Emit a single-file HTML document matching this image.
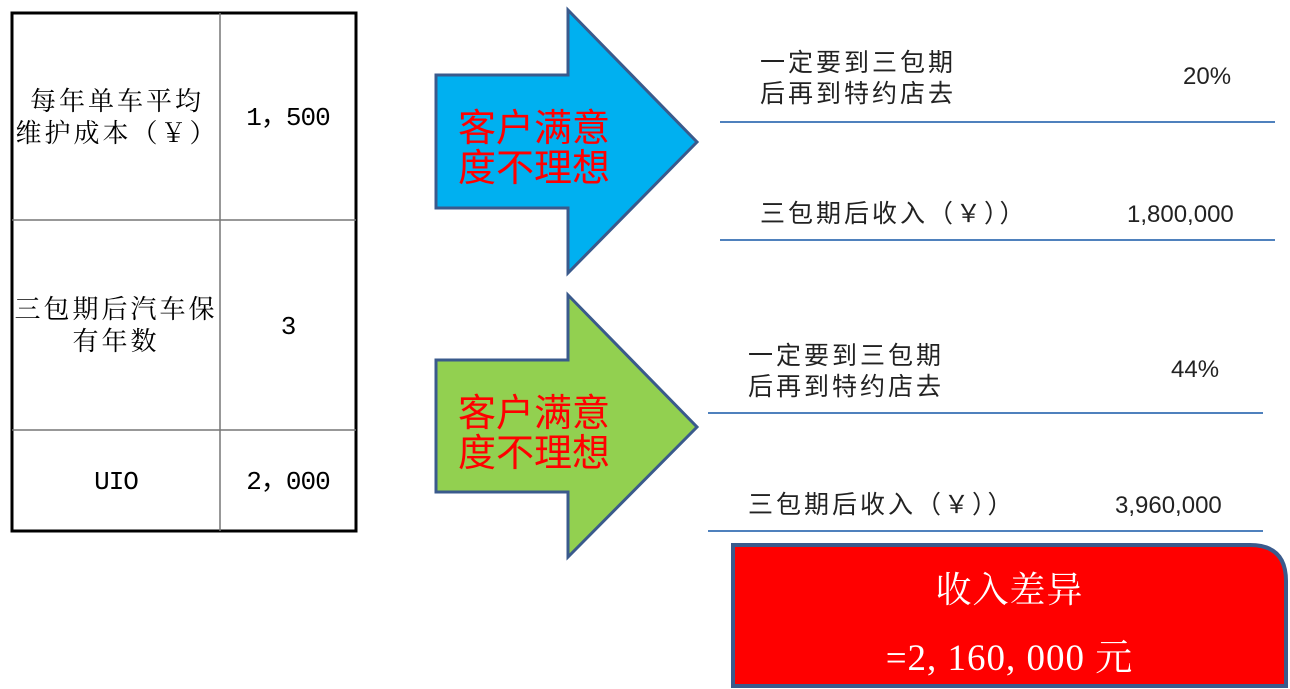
<!DOCTYPE html>
<html><head><meta charset="utf-8"><style>
body{margin:0;width:1290px;height:689px;background:#fff;position:relative;overflow:hidden;font-family:"Liberation Serif","Noto Serif CJK SC",serif}
.a{position:absolute}
.t{font-size:26px;color:#000;text-align:center;line-height:32px;letter-spacing:3px;white-space:nowrap}
.n{font-family:"Liberation Mono",monospace;font-size:26px;letter-spacing:-1px}
.s{font-family:"Liberation Sans","Noto Sans CJK SC",sans-serif;font-size:25px;color:#222;line-height:31px;letter-spacing:3px;white-space:nowrap}
.v{font-family:"Liberation Sans",sans-serif;font-size:24px;color:#222;line-height:31px;white-space:nowrap}
.r{font-family:"Noto Sans CJK SC",sans-serif;font-size:38px;color:#f00;line-height:40px;white-space:nowrap}
</style></head><body>
<svg class="a" style="left:0;top:0" width="1290" height="689">
<rect x="12" y="13" width="344" height="518" fill="#fff" stroke="#000" stroke-width="3"/>
<line x1="220" y1="13" x2="220" y2="531" stroke="#777" stroke-width="1.5"/>
<line x1="12" y1="220" x2="356" y2="220" stroke="#777" stroke-width="1.5"/>
<line x1="12" y1="430" x2="356" y2="430" stroke="#777" stroke-width="1.5"/>
<polygon points="436,75 568,75 568,10 697,142 568,273 568,208 436,208" fill="#00b0f0" stroke="#3a5a8c" stroke-width="3"/>
<polygon points="436,360 568,360 568,295 697,427 568,557 568,492 436,492" fill="#92d050" stroke="#3a5a8c" stroke-width="3"/>
<line x1="720" y1="122" x2="1275" y2="122" stroke="#4f81bd" stroke-width="2"/>
<line x1="720" y1="240" x2="1275" y2="240" stroke="#4f81bd" stroke-width="2"/>
<line x1="708" y1="413" x2="1263" y2="413" stroke="#4f81bd" stroke-width="2"/>
<line x1="708" y1="531" x2="1263" y2="531" stroke="#4f81bd" stroke-width="2"/>
<path d="M733,545 H1250 Q1286,545 1286,581 V686 H733 Z" fill="#f00" stroke="#3a5a8c" stroke-width="4"/>
</svg>
<div class="a t" style="left:14px;top:86px;width:206px">每年单车平均<br>维护成本（￥）</div>
<div class="a t n" style="left:220px;top:102px;width:136px">1，500</div>
<div class="a t" style="left:12px;top:294px;width:208px">三包期后汽车保<br>有年数</div>
<div class="a t n" style="left:220px;top:311px;width:136px">3</div>
<div class="a t n" style="left:12px;top:466px;width:208px">UIO</div>
<div class="a t n" style="left:220px;top:466px;width:136px">2，000</div>
<div class="a r" style="left:458px;top:105px">客户满意<br>度不理想</div>
<div class="a r" style="left:458px;top:390px">客户满意<br>度不理想</div>
<div class="a s" style="left:760px;top:48px">一定要到三包期<br>后再到特约店去</div>
<div class="a v" style="left:1183px;top:61px">20%</div>
<div class="a s" style="left:760px;top:199px">三包期后收入（￥））</div>
<div class="a v" style="left:1127px;top:199px">1,800,000</div>
<div class="a s" style="left:748px;top:341px">一定要到三包期<br>后再到特约店去</div>
<div class="a v" style="left:1171px;top:354px">44%</div>
<div class="a s" style="left:748px;top:490px">三包期后收入（￥））</div>
<div class="a v" style="left:1115px;top:490px">3,960,000</div>
<div class="a" style="left:733px;top:568px;width:553px;text-align:center;color:#fff;font-size:36px;line-height:44px;letter-spacing:1px">收入差异</div>
<div class="a" style="left:733px;top:637px;width:553px;text-align:center;color:#fff;font-size:37px;line-height:44px;letter-spacing:1px">=2, 160, 000 元</div>
</body></html>
